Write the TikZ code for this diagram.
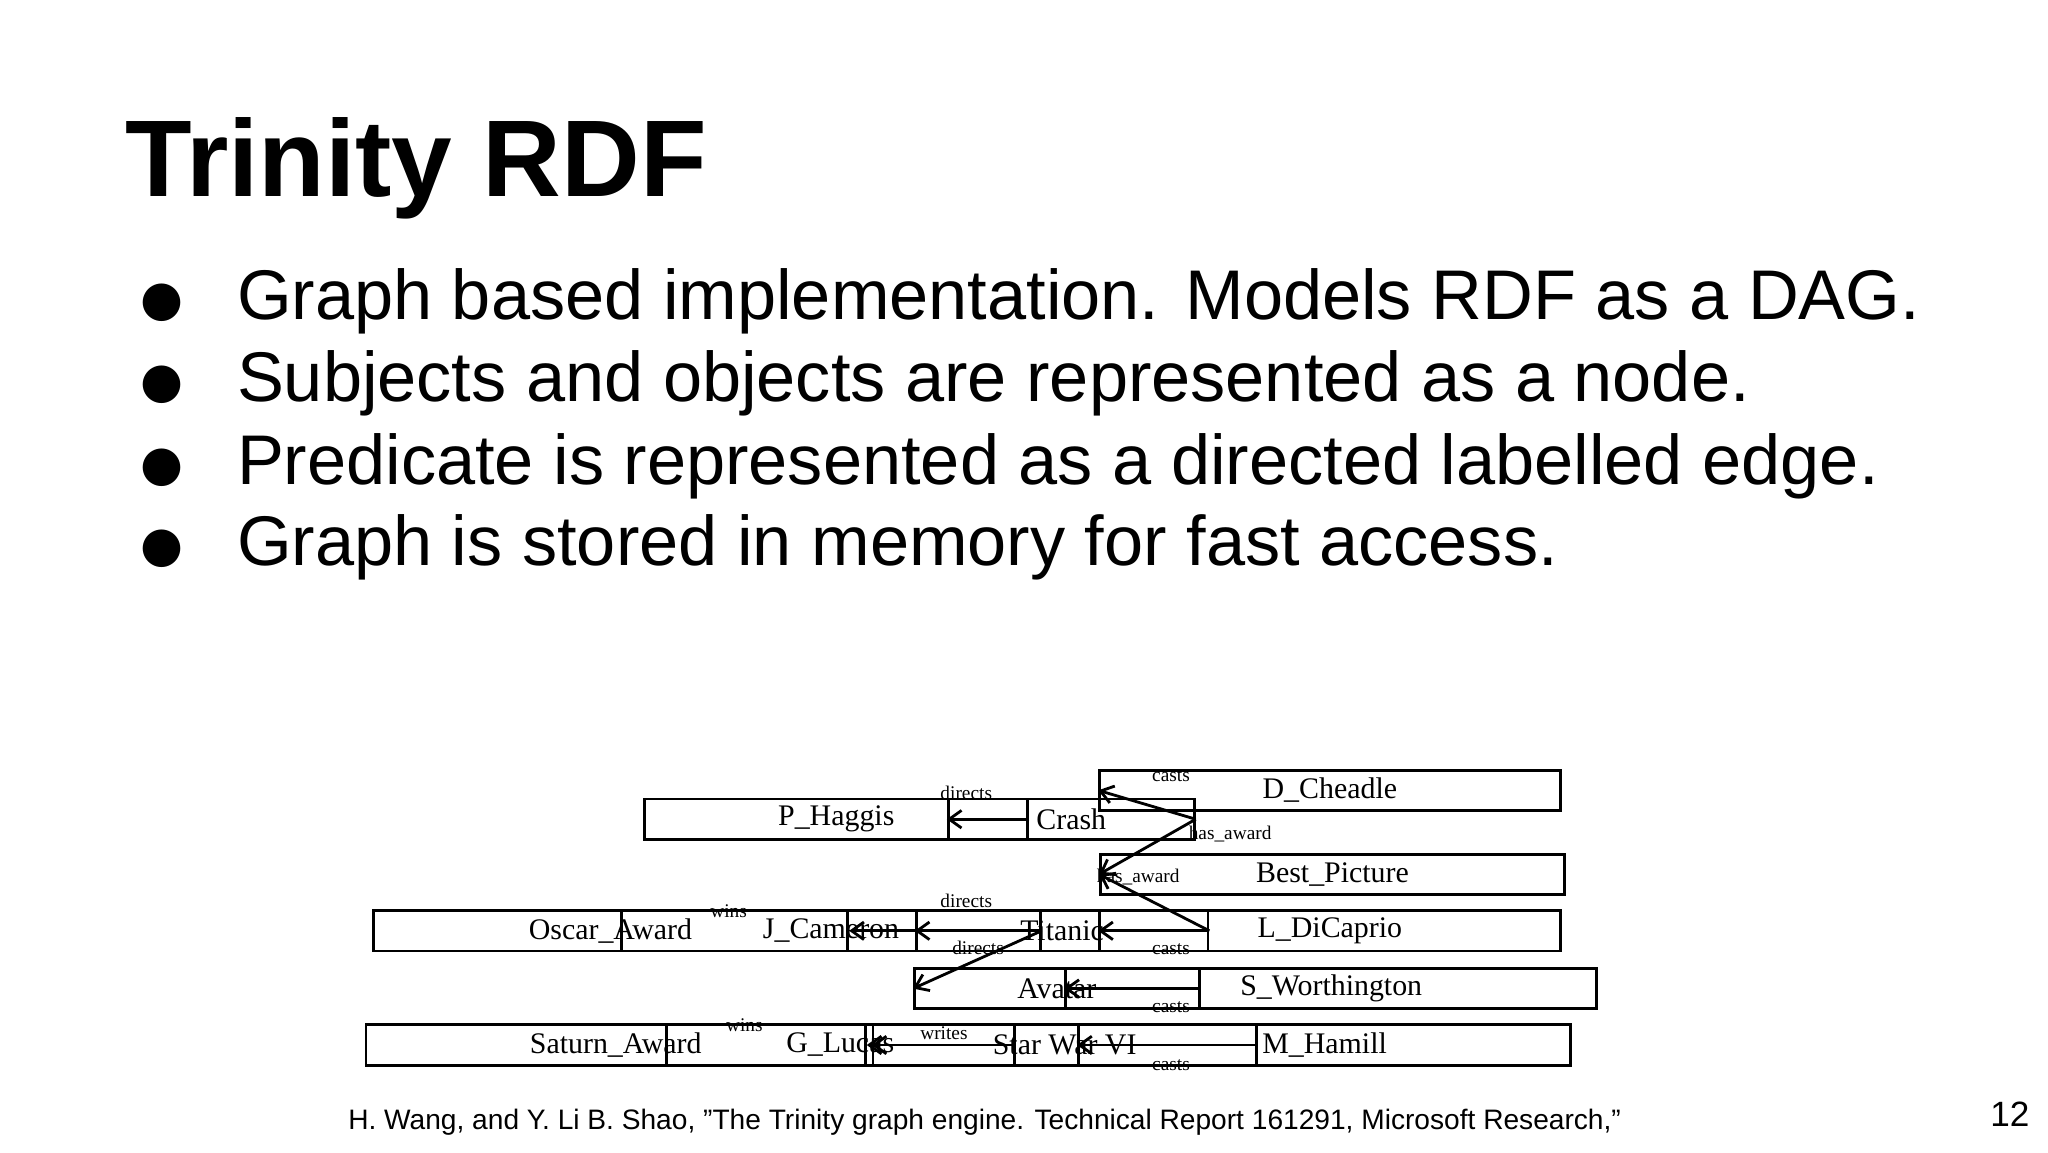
\documentclass[tikz,border=0pt]{standalone}
\usepackage{fontspec}
\setmainfont{Liberation Sans}
\newfontfamily\graphfont{Liberation Serif}
\newfontfamily\bulletfont{DejaVu Sans}
\usetikzlibrary{positioning,arrows.meta}
\tikzset{
  entity/.style={draw, thick, rectangle, minimum height=11.5pt, inner sep=1pt,
    font=\graphfont\fontsize{8.5}{9}\selectfont},
  edge/.style={->, >={Straight Barb[length=3.5pt,width=5pt]}, thick},
  pred/.style={font=\graphfont\fontsize{5.5}{6}\selectfont},
  bullettext/.style={anchor=base west, font=\fontsize{20}{24}\selectfont},
}
\begin{document}
\begin{tikzpicture}[x=0.013128cm, y=-0.013128cm]
    \useasboundingbox (0,0) rectangle (1560,877.5);

    % タイトル
    \node[anchor=base west, inner sep=0, font=\bfseries\fontsize{31}{36}\selectfont] (title) at (95,150) {Trinity RDF};

    % 箇条書き
    \foreach \y/\txt [count=\i] in {
      243/{Graph based implementation. Models RDF as a DAG.},
      306/{Subjects and objects are represented as a node.},
      369/{Predicate is represented as a directed labelled edge.},
      431/{Graph is stored in memory for fast access.}} {
      \node[anchor=base, inner sep=0, font=\bulletfont\fontsize{14}{16}\selectfont] (b\i) at (123,\y-3) {●};
      \node[bullettext, inner sep=0] (t\i) at (180,\y) {\txt};
    }

    % ノード
    \node[entity, minimum width=109] (haggis) at (637,624) {P\_Haggis};
    \node[entity, minimum width=70] (crash) at (816,624) {Crash};
    \node[entity, minimum width=131] (cheadle) at (1013,602) {D\_Cheadle};
    \node[entity, minimum width=132] (best) at (1015,666) {Best\_Picture};
    \node[entity, minimum width=135] (oscar) at (465,709) {Oscar\_Award};
    \node[entity, minimum width=119] (cameron) at (633,709) {J\_Cameron};
    \node[entity, minimum width=83] (titanic) at (809,709) {Titanic};
    \node[entity, minimum width=131] (dicaprio) at (1013,709) {L\_DiCaprio};
    \node[entity, minimum width=81] (avatar) at (805,753) {Avatar};
    \node[entity, minimum width=151] (worth) at (1014,753) {S\_Worthington};
    \node[entity, minimum width=142] (saturn) at (469,796) {Saturn\_Award};
    \node[entity, minimum width=99] (lucas) at (640,796) {G\_Lucas};
    \node[entity, minimum width=109] (starwar) at (811,796) {Star War VI};
    \node[entity, minimum width=140] (hamill) at (1009,796) {M\_Hamill};

    % エッジ
    \draw[edge] (haggis) -- (crash);
    \draw[edge] (crash.east) -- (cheadle.west);
    \draw[edge] (crash.east) -- (best.west);
    \draw[edge] (titanic.east) -- (best.west);
    \draw[edge] (cameron) -- (oscar);
    \draw[edge] (cameron) -- (titanic);
    \draw[edge] (cameron.east) -- (avatar.west);
    \draw[edge] (titanic) -- (dicaprio);
    \draw[edge] (avatar) -- (worth);
    \draw[edge] (lucas) -- (saturn);
    \draw[edge] (lucas) -- (starwar);
    \draw[edge] (starwar) -- (hamill);

    % 述語ラベル
    \node[pred] (l1) at (736,604) {directs};
    \node[pred] (l2) at (892,591) {casts};
    \node[pred] (l3) at (937,635) {has\_award};
    \node[pred] (l4) at (867,668) {has\_award};
    \node[pred] (l5) at (555,694) {wins};
    \node[pred] (l6) at (736,686) {directs};
    \node[pred] (l7) at (745,722) {directs};
    \node[pred] (l8) at (892,723) {casts};
    \node[pred] (l9) at (892,767) {casts};
    \node[pred] (l10) at (567,781) {wins};
    \node[pred] (l11) at (719,787) {writes};
    \node[pred] (l12) at (892,811) {casts};

    % 出典とページ番号
    \node[font=\fontsize{8}{10}\selectfont] (cite) at (750,855) {H. Wang, and Y. Li B. Shao, "The Trinity graph engine. Technical Report 161291, Microsoft Research,"};
    \node[font=\fontsize{10}{12}\selectfont] (page) at (1531,849) {12};
\end{tikzpicture}
\end{document}
